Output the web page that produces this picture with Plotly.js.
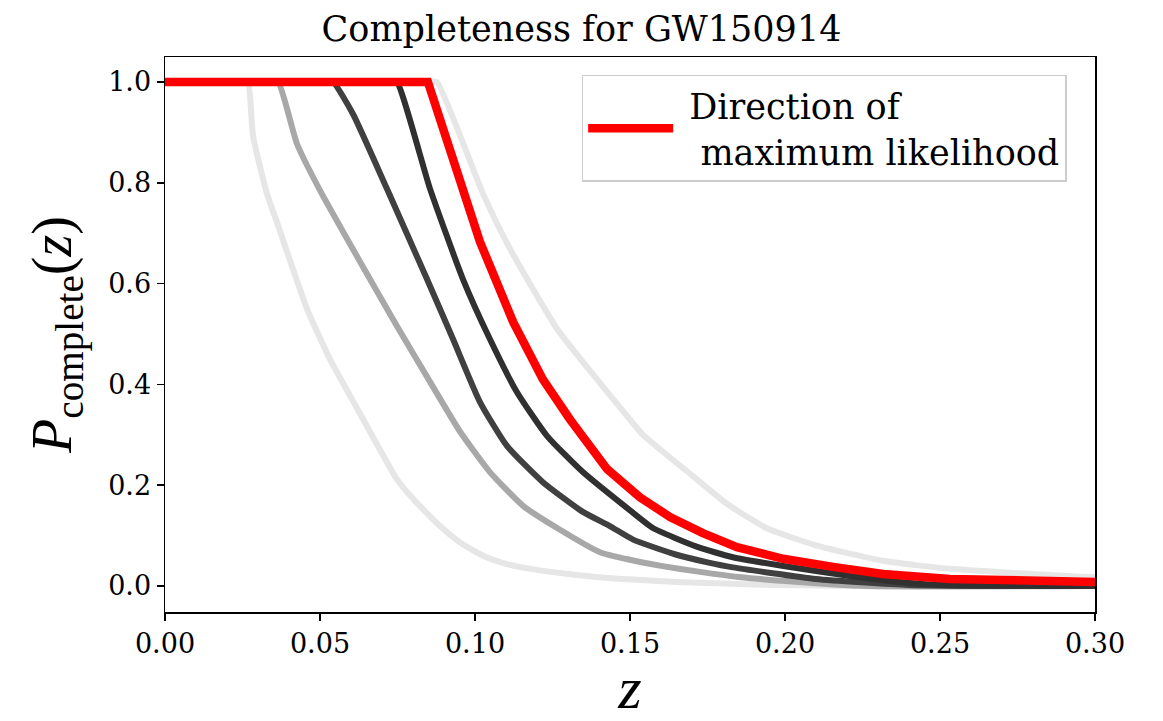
<!DOCTYPE html>
<html>
<head>
<meta charset="utf-8">
<script src="https://cdn.plot.ly/plotly-3.0.1.min.js"></script>
<style>html,body{margin:0;padding:0;background:#fff;}#plot{width:1163px;height:721px;}</style>
</head>
<body>
<div id="plot"></div>
<script>
// Completeness curves for GW150914 (different sky directions)
const zLightLeft = [0, 0.0255, 0.0268, 0.0284, 0.0329, 0.0361, 0.0458, 0.0532, 0.0639, 0.0748, 0.080, 0.0887, 0.0955, 0.1026, 0.110, 0.118, 0.130, 0.145, 0.165, 0.19, 0.22, 0.30];
const pLightLeft = [1, 1, 1, 0.893, 0.778, 0.722, 0.55, 0.45, 0.331, 0.212, 0.173, 0.119, 0.085, 0.060, 0.044, 0.034, 0.024, 0.015, 0.008, 0.003, 0.0, 0.0];

const zGray = [0, 0.034, 0.0365, 0.0426, 0.050, 0.0661, 0.0748, 0.0855, 0.0952, 0.1048, 0.1155, 0.1265, 0.1403, 0.150, 0.160, 0.1726, 0.185, 0.20, 0.2265, 0.30];
const pGray = [1, 1, 1, 0.877, 0.785, 0.609, 0.516, 0.405, 0.306, 0.226, 0.159, 0.115, 0.067, 0.052, 0.040, 0.028, 0.018, 0.010, 0.0, 0.0];

const zDark1 = [0, 0.052, 0.0542, 0.0606, 0.0716, 0.0845, 0.0929, 0.1016, 0.1103, 0.1219, 0.1348, 0.1435, 0.151, 0.165, 0.175, 0.1832, 0.21, 0.24, 0.30];
const pDark1 = [1, 1, 1, 0.937, 0.788, 0.609, 0.49, 0.365, 0.278, 0.206, 0.147, 0.119, 0.092, 0.062, 0.047, 0.037, 0.014, 0.002, 0.0];

const zDark2 = [0, 0.0728, 0.0748, 0.0855, 0.0961, 0.1048, 0.1135, 0.1232, 0.1348, 0.150, 0.1574, 0.1715, 0.1832, 0.199, 0.221, 0.237, 0.25, 0.30];
const pDark2 = [1, 1, 1, 0.788, 0.609, 0.49, 0.385, 0.298, 0.226, 0.150, 0.115, 0.078, 0.057, 0.040, 0.020, 0.008, 0.002, 0.0];

const zLightRight = [0, 0.0857, 0.0877, 0.1026, 0.1113, 0.1265, 0.1387, 0.150, 0.1542, 0.1703, 0.1813, 0.194, 0.2103, 0.2316, 0.2532, 0.291, 0.30];
const pLightRight = [1, 1, 1, 0.778, 0.669, 0.51, 0.415, 0.33, 0.30, 0.218, 0.163, 0.115, 0.080, 0.050, 0.034, 0.020, 0.018];

const zMaxLike = [0, 0.0848, 0.1016, 0.1123, 0.1219, 0.1306, 0.1426, 0.1532, 0.1629, 0.1735, 0.1845, 0.1994, 0.2155, 0.2316, 0.2532, 0.291, 0.30];
const pMaxLike = [1, 1, 0.683, 0.524, 0.41, 0.331, 0.232, 0.176, 0.137, 0.105, 0.077, 0.054, 0.038, 0.024, 0.014, 0.010, 0.008];

const legendLabel = ' Direction of<br>  maximum likelihood';
const titleText = 'Completeness for GW150914';
const xTicks = [0, 0.05, 0.10, 0.15, 0.20, 0.25, 0.30];
const yTicks = [0, 0.2, 0.4, 0.6, 0.8, 1.0];

function grayTrace(x, y, color) {
  return {x: x, y: y, type: 'scatter', mode: 'lines', showlegend: false, hoverinfo: 'skip',
          line: {color: color, width: 6, shape: 'spline', smoothing: 0.5}};
}

const traces = [
  grayTrace(zLightLeft, pLightLeft, '#e6e6e6'),
  grayTrace(zLightRight, pLightRight, '#e6e6e6'),
  grayTrace(zGray, pGray, '#a8a8a8'),
  grayTrace(zDark1, pDark1, '#404040'),
  grayTrace(zDark2, pDark2, '#303030'),
  {x: zMaxLike, y: pMaxLike, type: 'scatter', mode: 'lines', name: legendLabel,
   line: {color: '#ff0000', width: 8.5}}
];

const serif = '"DejaVu Serif", serif';
const mathFont = '"Liberation Serif", serif';
const layout = {
  width: 1163, height: 721,
  paper_bgcolor: '#ffffff', plot_bgcolor: '#ffffff',
  margin: {l: 165, r: 68, t: 57, b: 109},
  font: {family: serif, color: '#000', size: 27},
  title: {text: titleText, x: 0.5, xanchor: 'center', y: 0.96, yanchor: 'middle',
          font: {family: serif, size: 35, color: '#000'}},
  xaxis: {range: [0, 0.3], tickvals: xTicks, tickformat: '.2f', ticks: 'outside', ticklen: 7, tickwidth: 1.5,
          tickcolor: '#000', showline: true, linecolor: '#000', linewidth: 1.5, mirror: true,
          showgrid: false, zeroline: false, tickfont: {family: serif, size: 27},
          title: {text: '<i>z</i>', standoff: 14, font: {family: mathFont, size: 60}}},
  yaxis: {range: [-0.0516, 1.0496], tickvals: yTicks, tickformat: '.1f', ticks: 'outside', ticklen: 7, tickwidth: 1.5,
          tickcolor: '#000', showline: true, linecolor: '#000', linewidth: 1.5, mirror: true,
          showgrid: false, zeroline: false, tickfont: {family: serif, size: 27},
          title: {text: '<i>P</i><sub>complete</sub>(<i>z</i>)', standoff: 18,
                  font: {family: mathFont, size: 56}}},
  legend: {x: 0.448, y: 0.968, xanchor: 'left', yanchor: 'top', bgcolor: '#ffffff',
           bordercolor: '#cccccc', borderwidth: 1.5, font: {family: serif, size: 35, color: '#000'},
           itemwidth: 85}
};

Plotly.newPlot('plot', traces, layout, {displayModeBar: false, staticPlot: true});
</script>
</body>
</html>
